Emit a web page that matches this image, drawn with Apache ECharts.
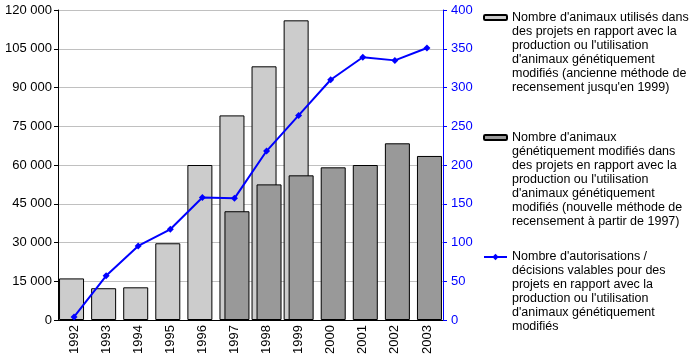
<!DOCTYPE html>
<html><head><meta charset="utf-8">
<script src="https://cdn.jsdelivr.net/npm/echarts@6/dist/echarts.min.js"></script>
<style>html,body{margin:0;padding:0;background:#fff}#c{width:697px;height:359px}</style>
</head><body><div id="c"></div>
<script>
var years = ['1992','1993','1994','1995','1996','1997','1998','1999','2000','2001','2002','2003'];
var oldMethod = [16100, 12300, 12650, 29700, 60000, 79200, 98200, 116000, null, null, null, null];
var newMethod = [null, null, null, null, null, 42100, 52500, 56000, 59100, 60000, 68400, 63500];
var authorisations = [4, 57, 95.5, 117, 158, 157, 218, 264, 310, 339, 335, 351];
var leftTicks = [0, 15000, 30000, 45000, 60000, 75000, 90000, 105000, 120000];
var rightTicks = [0, 50, 100, 150, 200, 250, 300, 350, 400];

var lines1 = ["Nombre d'animaux utilisés dans", "des projets en rapport avec la", "production ou l'utilisation", "d'animaux génétiquement", "modifiés (ancienne méthode de", "recensement jusqu'en 1999)"];
var lines2 = ["Nombre d'animaux", "génétiquement modifiés dans", "des projets en rapport avec la", "production ou l'utilisation", "d'animaux génétiquement", "modifiés (nouvelle méthode de", "recensement à partir de 1997)"];
var lines3 = ["Nombre d'autorisations /", "décisions valables pour des", "projets en rapport avec la", "production ou l'utilisation", "d'animaux génétiquement", "modifiés"];
var name1 = lines1.join(' ');
var name2 = lines2.join(' ');
var name3 = lines3.join(' ');

var FONT = 'Liberation Sans, Arial, sans-serif';
var LH = 14;
function fmt(v){ return String(v).replace(/\B(?=(\d{3})+(?!\d))/g, ' '); }
function legendFor(name, lines, firstLineCenter, iconH){
  var n = lines.length;
  var pad = [];
  for (var i = 0; i < n - 1; i++) pad.push(' ');
  var text = pad.concat(lines).join('\n');
  return {
    orient: 'vertical', left: 483, top: firstLineCenter - (n - 1) * LH - LH / 2,
    itemWidth: 23, itemHeight: iconH, itemGap: 0, padding: 0, selectedMode: false,
    data: [name],
    formatter: function(){ return text; },
    textStyle: { fontFamily: FONT, fontSize: 12.5, color: '#000', lineHeight: LH }
  };
}
var chart = echarts.init(document.getElementById('c'), null, {renderer: 'canvas'});
chart.setOption({
  animation: false,
  grid: { left: 58, right: 254, top: 10, bottom: 39, containLabel: false },
  legend: [
    legendFor(name1, lines1, 17.5, 5),
    legendFor(name2, lines2, 137.5, 5),
    legendFor(name3, lines3, 257, 8)
  ],
  xAxis: {
    type: 'category', data: years,
    axisLine: { lineStyle: { color: '#000', width: 1 } },
    axisTick: { show: false },
    axisLabel: { rotate: 90, color: '#000', fontFamily: FONT, fontSize: 13, margin: 5 }
  },
  yAxis: [
    { type: 'value', min: 0, max: 120000, interval: 15000, position: 'left',
      axisLine: { show: true, lineStyle: { color: '#000' } },
      axisTick: { show: true, length: 4, lineStyle: { color: '#000' } },
      axisLabel: { color: '#000', fontFamily: FONT, fontSize: 13, margin: 6, formatter: fmt },
      splitLine: { show: true, lineStyle: { color: '#c0c0c0', width: 1 } } },
    { type: 'value', min: 0, max: 400, interval: 50, position: 'right',
      axisLine: { show: true, lineStyle: { color: '#0000ff' } },
      axisTick: { show: true, length: 4, lineStyle: { color: '#0000ff' } },
      axisLabel: { color: '#0000ff', fontFamily: FONT, fontSize: 13, margin: 8 },
      splitLine: { show: false } }
  ],
  series: [
    { name: name1, type: 'bar', data: oldMethod, barWidth: 25, barGap: '-80%',
      itemStyle: { color: '#cccccc', borderColor: '#000', borderWidth: 1 } },
    { name: name2, type: 'bar', data: newMethod, barWidth: 25, barGap: '-80%',
      itemStyle: { color: '#999999', borderColor: '#000', borderWidth: 1 } },
    { name: name3, type: 'line', yAxisIndex: 1, data: authorisations,
      symbol: 'diamond', symbolSize: 7, z: 5,
      lineStyle: { color: '#0000ff', width: 2 }, itemStyle: { color: '#0000ff' } }
  ]
});
</script></body></html>
